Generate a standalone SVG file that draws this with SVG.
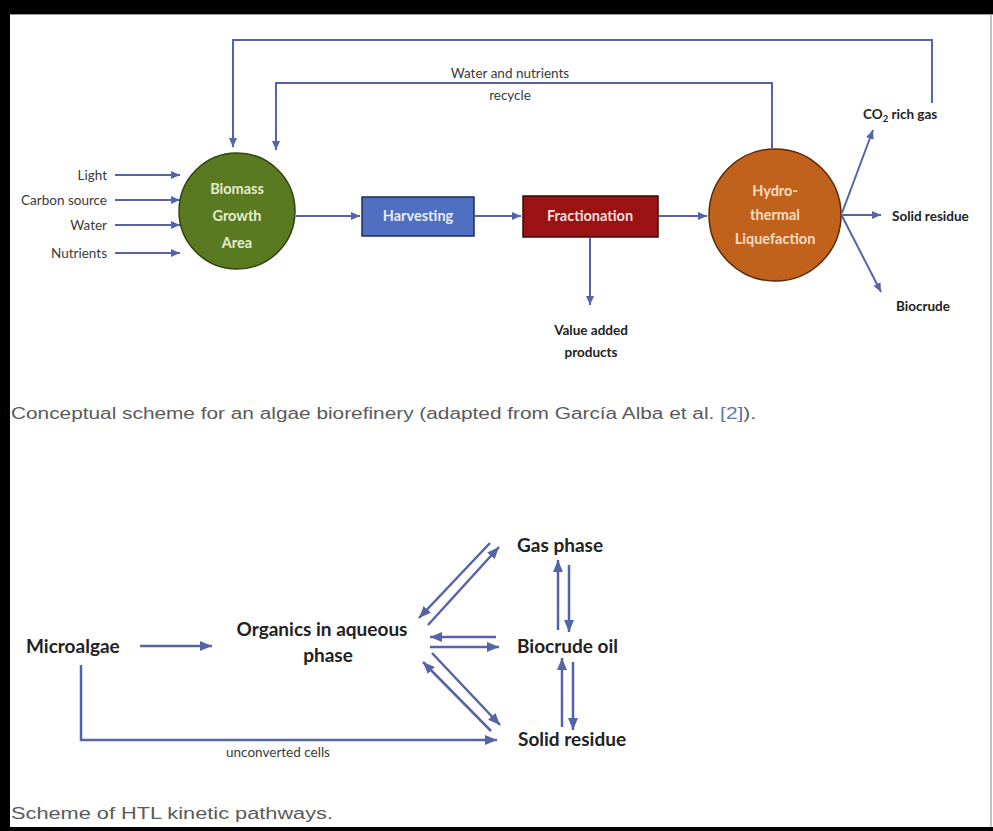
<svg xmlns="http://www.w3.org/2000/svg" width="993" height="831" viewBox="0 0 993 831">
<style>
.lbl{font-family:Lato,"Open Sans","Liberation Sans",sans-serif;fill:#3a3a3a;font-size:13.5px}
.b{font-weight:bold;fill:#222}
.wh{font-family:Lato,"Open Sans","Liberation Sans",sans-serif;font-weight:bold;font-size:14.5px;text-anchor:middle}
.big{font-family:Lato,"Open Sans","Liberation Sans",sans-serif;font-weight:bold;font-size:19px;fill:#222}
.cap{font-family:"Liberation Sans",Arial,sans-serif;font-size:16px;fill:#5a5a5a}
.ln{fill:none;stroke:#5563a8;stroke-width:2}
.ln2{fill:none;stroke:#5563a8;stroke-width:2.5}
</style>
<defs>
<marker id="ah" markerUnits="userSpaceOnUse" markerWidth="9" markerHeight="8" refX="9" refY="4" orient="auto"><path d="M0,0 L9,4 L0,8 z" fill="#5563a8"/></marker>
<marker id="ah2" markerUnits="userSpaceOnUse" markerWidth="12" markerHeight="10" refX="12" refY="5" orient="auto"><path d="M0,0 L12,5 L0,10 z" fill="#5563a8"/></marker>
</defs>
<rect x="0" y="0" width="993" height="831" fill="#fff"/>
<g id="frame">
<rect x="0" y="0" width="993" height="14" fill="#000"/>
<rect x="0" y="0" width="10" height="831" fill="#000"/>
<rect x="0" y="827" width="993" height="4" fill="#000"/>
<line x1="991" y1="14" x2="991" y2="827" stroke="#888" stroke-width="1"/>
<line x1="10" y1="14.5" x2="993" y2="14.5" stroke="#999" stroke-width="1"/>
</g>
<g id="connectors">
<polyline class="ln" points="932,103 932,40 233,40 233,147" marker-end="url(#ah)"/>
<polyline class="ln" points="772,148 772,83 276,83 276,150" marker-end="url(#ah)"/>
<line class="ln" x1="115" y1="175" x2="180" y2="175" marker-end="url(#ah)"/>
<line class="ln" x1="115" y1="200" x2="180" y2="200" marker-end="url(#ah)"/>
<line class="ln" x1="115" y1="225" x2="180" y2="225" marker-end="url(#ah)"/>
<line class="ln" x1="115" y1="253" x2="180" y2="253" marker-end="url(#ah)"/>
<line class="ln" x1="296" y1="216" x2="360" y2="216" marker-end="url(#ah)"/>
<line class="ln" x1="475" y1="216" x2="521" y2="216" marker-end="url(#ah)"/>
<line class="ln" x1="659" y1="216" x2="707" y2="216" marker-end="url(#ah)"/>
<line class="ln" x1="590" y1="238" x2="590" y2="305" marker-end="url(#ah)"/>
<line class="ln" x1="842" y1="213" x2="873" y2="130" marker-end="url(#ah)"/>
<line class="ln" x1="842" y1="215" x2="881" y2="215" marker-end="url(#ah)"/>
<line class="ln" x1="842" y1="216" x2="881" y2="292" marker-end="url(#ah)"/>
<line class="ln2" x1="140" y1="646" x2="212" y2="646" marker-end="url(#ah2)"/>
<line class="ln2" x1="490" y1="543" x2="419" y2="618" marker-end="url(#ah2)"/>
<line class="ln2" x1="428" y1="625" x2="499" y2="547" marker-end="url(#ah2)"/>
<line class="ln2" x1="496" y1="637" x2="430" y2="637" marker-end="url(#ah2)"/>
<line class="ln2" x1="430" y1="647" x2="499" y2="647" marker-end="url(#ah2)"/>
<line class="ln2" x1="491" y1="731" x2="423" y2="662" marker-end="url(#ah2)"/>
<line class="ln2" x1="432" y1="653" x2="500" y2="725" marker-end="url(#ah2)"/>
<line class="ln2" x1="558" y1="630" x2="558" y2="560" marker-end="url(#ah2)"/>
<line class="ln2" x1="569" y1="565" x2="569" y2="632" marker-end="url(#ah2)"/>
<line class="ln2" x1="562" y1="727" x2="562" y2="658" marker-end="url(#ah2)"/>
<line class="ln2" x1="573" y1="662" x2="573" y2="730" marker-end="url(#ah2)"/>
<polyline class="ln2" points="81,665 81,740 497,740" marker-end="url(#ah2)"/>
</g>
<g id="recycle-label">
<text class="lbl" x="510" y="78" text-anchor="middle" font-size="14.5">Water and nutrients</text>
<text class="lbl" x="510" y="100" text-anchor="middle" font-size="14.5">recycle</text>
</g>
<g id="inputs">
<text class="lbl" x="107" y="180" text-anchor="end">Light</text>
<text class="lbl" x="107" y="205" text-anchor="end">Carbon source</text>
<text class="lbl" x="107" y="230" text-anchor="end">Water</text>
<text class="lbl" x="107" y="258" text-anchor="end">Nutrients</text>
</g>
<g id="biomass">
<circle cx="237" cy="211" r="58" fill="#5a7a22" stroke="#2f4210" stroke-width="1.5"/>
<text class="wh" fill="#e4edcc" x="237" y="194">Biomass</text>
<text class="wh" fill="#e4edcc" x="237" y="221">Growth</text>
<text class="wh" fill="#e4edcc" x="237" y="248">Area</text>
</g>
<g id="harvesting">
<rect x="362" y="197" width="112" height="39" fill="#4f6fc0" stroke="#1f2b55" stroke-width="1.5"/>
<text class="wh" fill="#e8ecf6" x="418" y="221">Harvesting</text>
</g>
<g id="fractionation">
<rect x="523" y="196" width="135" height="41" fill="#9a1212" stroke="#3a0606" stroke-width="1.5"/>
<text class="wh" fill="#f3dede" x="590" y="221">Fractionation</text>
</g>
<g id="value-added">
<text class="lbl b" x="591" y="335" text-anchor="middle">Value added</text>
<text class="lbl b" x="591" y="357" text-anchor="middle">products</text>
</g>
<g id="htl">
<circle cx="775" cy="215" r="66" fill="#c0621c" stroke="#5a2a08" stroke-width="1.5"/>
<text class="wh" fill="#f8dcc0" x="775" y="196">Hydro-</text>
<text class="wh" fill="#f8dcc0" x="775" y="220">thermal</text>
<text class="wh" fill="#f8dcc0" x="775" y="244">Liquefaction</text>
</g>
<g id="outputs">
<text class="lbl b" x="863" y="119">CO<tspan font-size="9.5" dy="3">2</tspan><tspan dy="-3"> rich gas</tspan></text>
<text class="lbl b" x="892" y="221">Solid residue</text>
<text class="lbl b" x="896" y="311">Biocrude</text>
</g>
<g id="caption1">
<text class="cap" x="11" y="419" textLength="745" lengthAdjust="spacingAndGlyphs">Conceptual scheme for an algae biorefinery (adapted from García Alba et al. <tspan fill="#5a7ab0">[2]</tspan>).</text>
</g>
<g id="microalgae"><text class="big" x="26" y="653">Microalgae</text></g>
<g id="organics">
<text class="big" x="322" y="636" text-anchor="middle">Organics in aqueous</text>
<text class="big" x="328" y="662" text-anchor="middle">phase</text>
</g>
<g id="gas-phase"><text class="big" x="517" y="552">Gas phase</text></g>
<g id="biocrude-oil"><text class="big" x="517" y="653">Biocrude oil</text></g>
<g id="solid-residue"><text class="big" x="518" y="746">Solid residue</text></g>
<g id="unconverted"><text class="lbl" x="278" y="757" font-size="9.5" text-anchor="middle">unconverted cells</text></g>
<g id="caption2">
<text class="cap" x="11" y="819" textLength="322" lengthAdjust="spacingAndGlyphs">Scheme of HTL kinetic pathways.</text>
</g>
</svg>
